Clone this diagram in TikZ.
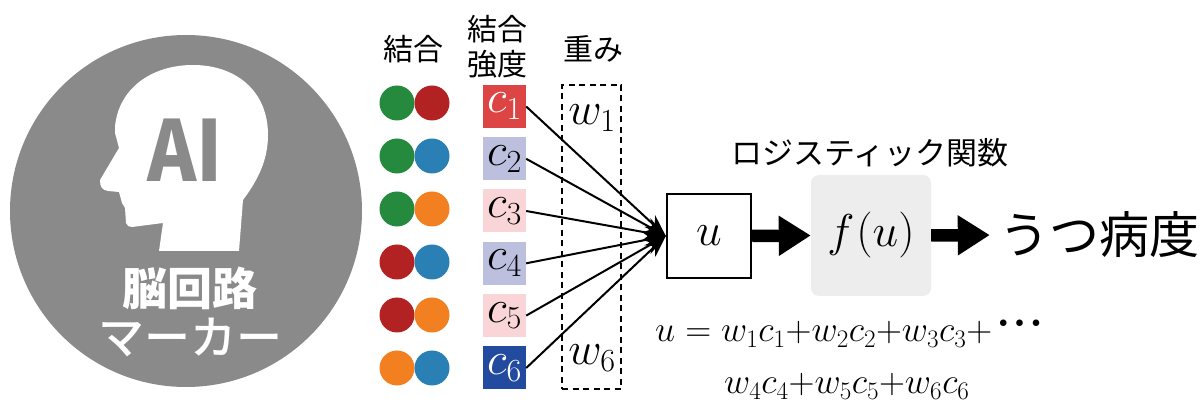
\RequirePackage{fix-cm}
\documentclass[tikz,border=0pt]{standalone}
\usepackage{fontspec}
\newfontfamily\cjk{Noto Sans CJK JP}
\newfontfamily\cjkm[UprightFont=* Medium]{Noto Sans CJK JP}
\usetikzlibrary{arrows.meta}
\definecolor{dgreen}{HTML}{268A3E}
\definecolor{dred}{HTML}{B22222}
\definecolor{dblue}{HTML}{2A7FB5}
\definecolor{dorange}{HTML}{F28020}
\definecolor{sred}{HTML}{DD4444}
\definecolor{slav}{HTML}{BDBFDF}
\definecolor{spink}{HTML}{F9D5D8}
\definecolor{snavy}{HTML}{224A9F}
\definecolor{mgray}{HTML}{8A8A8A}
\tikzset{ d/.style = { circle
                       , inner sep    = 0pt
                       , minimum size = 35pt
                       , fill = #1
                       },
            s/.style = { inner sep    = 0pt
            , minimum size = 43pt
            , fill = #1
            , font = \fontsize{46}{46}\selectfont
            },
            jp/.style = { inner sep = 0pt
            , align = center
            , font = \cjk\fontsize{#1}{#1}\selectfont
            },
            mk/.style = { inner sep = 0pt
            , text = white
            , font = \cjk\bfseries\fontsize{#1}{#1}\selectfont
            },
            eq/.style = { inner sep = 0pt
            , font = \fontsize{#1}{#1}\selectfont
            },
            conn/.style = { line width = 2pt
            , -{Stealth[length=22pt, width=16pt]}
            },
            fat/.style = { line width = 12.5pt
            , -{Triangle[length=32pt, width=38pt]}
            }
          }

\begin{document}
\begin{tikzpicture}[x=1pt, y=-1pt]
                \useasboundingbox (0,0) rectangle (1203,403);
                \fill[mgray] (186,211) circle (176);
                \fill[white] (159,251) -- (239,251) -- (243,200)
                    .. controls (258,180) and (268,160) .. (268,135)
                    .. controls (268,90) and (235,65) .. (193,65)
                    .. controls (150,65) and (118,90) .. (115,127)
                    -- (115,133) -- (119,148) -- (100,180)
                    .. controls (100,187) and (102,190) .. (108,191)
                    -- (119,192) -- (122,203) -- (125,208) -- (126,223)
                    .. controls (127,226) and (129,227) .. (132,227)
                    -- (163,223) -- cycle;
                \node[inner sep=0pt, text=mgray, font=\cjk\bfseries\fontsize{84}{84}\selectfont] (ai) at (185,150) {\scalebox{0.89}[1]{AI}};
                \node[mk=45] (nou) at (190,288) {脳回路};
                \node[mk=46, font=\cjkm\fontsize{46}{46}\selectfont] (marker) at (190,338) {マーカー};

                \node[jp=30] (h1) at (413,49) {結合};
                \node[jp=30, text height=26pt, text depth=4pt] (h2a) at (497,30) {結合};
                \node[jp=30, text height=26pt, text depth=4pt] (h2b) at (497,65) {強度};
                \node[jp=30] (h3) at (593,49) {重み};

                \node[d=dgreen]  (a1) at (397,103) {};
                \node[d=dred]    (b1) at (432,103) {};
                \node[d=dgreen]  (a2) at (397,156) {};
                \node[d=dblue]   (b2) at (432,156) {};
                \node[d=dgreen]  (a3) at (397,209) {};
                \node[d=dorange] (b3) at (432,209) {};
                \node[d=dred]    (a4) at (397,262) {};
                \node[d=dblue]   (b4) at (432,262) {};
                \node[d=dred]    (a5) at (397,315) {};
                \node[d=dorange] (b5) at (432,315) {};
                \node[d=dorange] (a6) at (397,368) {};
                \node[d=dblue]   (b6) at (432,368) {};

                \node[s=sred, text=white] (c1) at (504.5,106.5) {$c_1$};
                \node[s=slav]  (c2) at (504.5,158.8) {$c_2$};
                \node[s=spink] (c3) at (504.5,211) {$c_3$};
                \node[s=slav]  (c4) at (504.5,263.3) {$c_4$};
                \node[s=spink] (c5) at (504.5,315.6) {$c_5$};
                \node[s=snavy, text=white] (c6) at (504.5,368) {$c_6$};

                \node[draw=black, line width=1.5pt, dash pattern=on 6pt off 4.5pt, inner sep=0pt, minimum width=59pt, minimum height=304pt] (wbox) at (591.5,237) {};
                \node[eq=46] (w1) at (592,118) {$w_1$};
                \node[eq=46] (w6) at (592,358) {$w_6$};

                \node[draw=black, line width=2.4pt, fill=white, inner sep=0pt, minimum size=84pt, font=\fontsize{46}{46}\selectfont] (u) at (709,236) {$u$};
                \node[fill=black!7, rounded corners=8pt, inner sep=0pt, minimum width=120pt, minimum height=121pt, font=\fontsize{46}{46}\selectfont] (fu) at (871,235.5) {$f\kern2pt(u)$};
                \node[jp=31] (logi) at (870,153) {ロジスティック関数};
                \node[jp=50] (utsu) at (1099,235) {うつ病度};

                \draw[conn] (c1.east) -- (u.west);
                \draw[conn] (c2.east) -- (u.west);
                \draw[conn] (c3.east) -- (u.west);
                \draw[conn] (c4.east) -- (u.west);
                \draw[conn] (c5.east) -- (u.west);
                \draw[conn] (c6.east) -- (u.west);
                \draw[fat] (u.east) -- (fu.west);
                \draw[fat, shorten >=9pt] (fu.east) -- (utsu.west);

                \node[eq=36, anchor=base west] (eq1) at (655,342) {$u = w_1c_1{+}w_2c_2{+}w_3c_3{+}$};
                \node[eq=17, anchor=base west] (eqd) at (999,328) {$\bullet\kern4pt\bullet\kern4pt\bullet$};
                \node[eq=36, anchor=base west] (eq2) at (724,394) {$w_4c_4{+}w_5c_5{+}w_6c_6$};
\end{tikzpicture}
\end{document}
